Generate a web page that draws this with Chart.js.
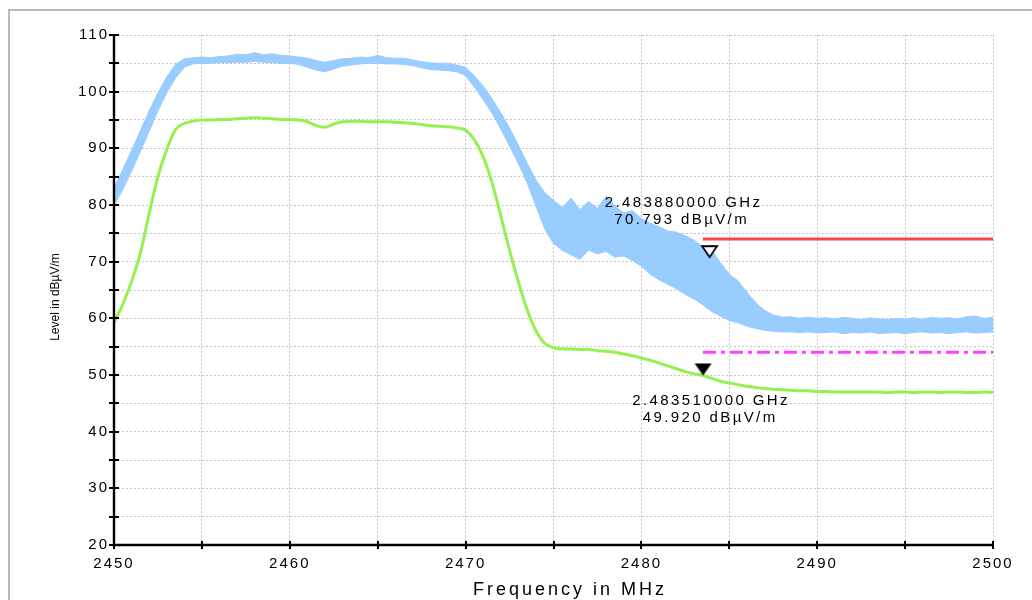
<!DOCTYPE html>
<html>
<head>
<meta charset="utf-8">
<script src="https://cdn.jsdelivr.net/npm/chart.js@4.4.1/dist/chart.umd.min.js"></script>
<style>
  html, body { margin: 0; padding: 0; background: #fff; }
  #wrap { position: relative; width: 1032px; height: 600px; }
</style>
</head>
<body>
<div id="wrap"><canvas id="spectrum"></canvas></div>
<script>
// frequency grid in MHz (0.5 MHz steps)
const freq = [
  2450, 2450.5, 2451, 2451.5, 2452, 2452.5, 2453, 2453.5, 2454, 2454.5,
  2455, 2455.5, 2456, 2456.5, 2457, 2457.5, 2458, 2458.5, 2459, 2459.5,
  2460, 2460.5, 2461, 2461.5, 2462, 2462.5, 2463, 2463.5, 2464, 2464.5,
  2465, 2465.5, 2466, 2466.5, 2467, 2467.5, 2468, 2468.5, 2469, 2469.5,
  2470, 2470.5, 2471, 2471.5, 2472, 2472.5, 2473, 2473.5, 2474, 2474.5,
  2475, 2475.5, 2476, 2476.5, 2477, 2477.5, 2478, 2478.5, 2479, 2479.5,
  2480, 2480.5, 2481, 2481.5, 2482, 2482.5, 2483, 2483.5, 2484, 2484.5,
  2485, 2485.5, 2486, 2486.5, 2487, 2487.5, 2488, 2488.5, 2489, 2489.5,
  2490, 2490.5, 2491, 2491.5, 2492, 2492.5, 2493, 2493.5, 2494, 2494.5,
  2495, 2495.5, 2496, 2496.5, 2497, 2497.5, 2498, 2498.5, 2499, 2499.5,
  2500
];

// peak detector trace: noisy, drawn as upper / lower edge of the band
const peakUpper = [
  83.0, 86.3, 89.6, 93.1, 96.6, 99.8, 102.6, 104.8, 105.8, 106.0,
  106.1, 106.0, 106.2, 106.3, 106.6, 106.5, 106.9, 106.5, 106.7, 106.4,
  106.3, 106.1, 105.9, 105.5, 105.2, 105.5, 105.8, 105.9, 106.1, 106.0,
  106.4, 106.0, 105.9, 105.9, 105.6, 105.3, 105.1, 105.0, 105.0, 104.7,
  104.3, 102.8, 101.0, 98.8, 96.3, 93.6, 90.6, 87.4, 84.4, 82.2,
  80.8, 79.6, 81.2, 79.2, 80.6, 79.4, 81.6, 79.8, 78.6, 79.0,
  77.6, 76.8, 76.2, 75.4, 75.2, 74.6, 73.8, 72.6, 72.0, 69.8,
  67.8, 66.6, 64.6, 62.8, 61.4, 60.6, 60.2, 60.3, 60.0, 60.2,
  60.0, 60.1, 59.9, 60.2, 60.0, 59.8, 60.1, 59.9, 59.8, 60.0,
  59.9, 60.1, 59.8, 60.2, 60.0, 60.1, 59.9, 60.3, 60.4, 60.0,
  60.2
];
const peakLower = [
  80.0, 82.7, 86.0, 89.4, 93.0, 96.6, 99.8, 102.4, 104.3, 104.9,
  105.0, 105.0, 105.1, 105.1, 105.2, 105.2, 105.3, 105.2, 105.1, 105.0,
  105.0, 104.8, 104.3, 103.8, 103.5, 104.0, 104.5, 104.7, 104.9, 105.0,
  105.0, 104.9, 104.9, 104.8, 104.6, 104.2, 103.9, 103.8, 103.7, 103.5,
  102.8, 100.8, 98.6, 96.2, 93.4, 90.4, 87.3, 83.9, 79.8, 75.8,
  73.2, 72.0, 71.2, 70.4, 72.0, 71.4, 71.8, 70.8, 71.0, 70.2,
  69.2, 67.8, 66.8, 66.0, 65.2, 64.2, 63.4, 62.4, 61.2, 60.4,
  59.6, 59.2, 58.6, 58.2, 57.9, 57.7, 57.6, 57.6, 57.5, 57.6,
  57.4, 57.5, 57.6, 57.3, 57.5, 57.4, 57.6, 57.3, 57.4, 57.5,
  57.3, 57.5, 57.6, 57.4, 57.5, 57.3, 57.5, 57.6, 57.4, 57.5,
  57.6
];

// average detector trace
const avgLevel = [
  59.2, 62.5, 66.5, 71.5, 78.5, 85.0, 89.8, 93.3, 94.4, 94.8,
  95.0, 95.0, 95.1, 95.1, 95.2, 95.3, 95.4, 95.3, 95.2, 95.1,
  95.1, 95.0, 94.7, 94.0, 93.7, 94.3, 94.7, 94.8, 94.8, 94.7,
  94.7, 94.7, 94.6, 94.5, 94.4, 94.2, 94.0, 93.9, 93.8, 93.6,
  93.2, 91.5, 88.5, 84.0, 78.1, 72.0, 66.5, 61.5, 57.8, 55.6,
  54.8, 54.6, 54.6, 54.5, 54.5, 54.3, 54.2, 54.0, 53.7, 53.4,
  53.0, 52.6, 52.1, 51.6, 51.1, 50.6, 50.2, 49.9, 49.4, 48.9,
  48.6, 48.3, 48.0, 47.8, 47.6, 47.5, 47.4, 47.3, 47.2, 47.2,
  47.1, 47.1, 47.0, 47.0, 47.0, 47.0, 47.0, 47.0, 46.9, 47.0,
  47.0, 46.9, 47.0, 47.0, 46.9, 47.0, 47.0, 46.9, 46.9, 47.0,
  46.9
];

// limit lines (restricted band edge)
const limitFreq = [2483.5, 2500];
const peakLimit = [74, 74];
const avgLimit = [54, 54];

// markers: [peak, average]
const markerFreq = [2483.88, 2483.51];
const markerLevel = [70.793, 49.92];

const toXY = (xs, ys) => xs.map((x, i) => ({ x: x, y: ys[i] }));

// down-pointing triangle sprite, tip sits at the sprite centre
function triangle(w, h, filled) {
  const c = document.createElement('canvas');
  c.width = w + 4;
  c.height = (h + 2) * 2;
  const g = c.getContext('2d');
  const cx = c.width / 2, tip = c.height / 2;
  g.beginPath();
  g.moveTo(cx - w / 2, tip - h);
  g.lineTo(cx + w / 2, tip - h);
  g.lineTo(cx, tip);
  g.closePath();
  if (filled) {
    g.fillStyle = '#000';
    g.fill();
  } else {
    g.fillStyle = '#fff';
    g.fill();
    g.lineWidth = 1.8;
    g.strokeStyle = '#000';
    g.stroke();
  }
  return c;
}

const decor = {
  id: 'decor',
  beforeDraw(chart) {
    const ctx = chart.ctx;
    ctx.save();
    ctx.fillStyle = '#fff';
    ctx.fillRect(0, 0, chart.width, chart.height);
    ctx.strokeStyle = '#b8b8b8';
    ctx.lineWidth = 2;
    ctx.beginPath();
    ctx.moveTo(9, chart.height);
    ctx.lineTo(9, 10);
    ctx.lineTo(chart.width, 10);
    ctx.stroke();
    ctx.restore();
    ctx.letterSpacing = '2px';
  },
  afterDatasetsDraw(chart) {
    const ctx = chart.ctx;
    const { left, right, top, bottom } = chart.chartArea;
    const xs = chart.scales.x, ys = chart.scales.y;
    ctx.save();
    ctx.strokeStyle = '#000';
    ctx.lineWidth = 2.4;
    ctx.beginPath();
    ctx.moveTo(left, top);
    ctx.lineTo(left, bottom);
    ctx.lineTo(right, bottom);
    ctx.stroke();
    ctx.lineWidth = 2;
    ctx.beginPath();
    ys.ticks.forEach(t => {
      const py = Math.round(ys.getPixelForValue(t.value));
      ctx.moveTo(left - 5, py);
      ctx.lineTo(left + 5, py);
    });
    xs.ticks.forEach(t => {
      const px = Math.round(xs.getPixelForValue(t.value));
      ctx.moveTo(px, bottom - 4);
      ctx.lineTo(px, bottom + 4);
    });
    ctx.stroke();
    ctx.restore();
  },
  afterDraw(chart) {
    const ctx = chart.ctx;
    const xs = chart.scales.x, ys = chart.scales.y;
    ctx.save();
    ctx.fillStyle = '#000';
    ctx.textAlign = 'center';
    ctx.textBaseline = 'middle';

    // axis titles
    ctx.letterSpacing = '3px';
    ctx.font = '18px "Liberation Sans", Arial, sans-serif';
    ctx.fillText('Frequency in MHz', 570, 590);
    ctx.letterSpacing = '0px';
    ctx.font = '12px "Liberation Sans", Arial, sans-serif';
    ctx.save();
    ctx.translate(56, 297);
    ctx.rotate(-Math.PI / 2);
    ctx.fillText('Level in dBµV/m', 0, 0);
    ctx.restore();

    // marker read-outs
    ctx.letterSpacing = '2.4px';
    ctx.font = '15px "Liberation Sans", Arial, sans-serif';
    const lines = i => [
      (markerFreq[i] / 1000).toFixed(9) + ' GHz',
      markerLevel[i].toFixed(3) + ' dBµV/m'
    ];
    let px = xs.getPixelForValue(markerFreq[0]);
    let py = ys.getPixelForValue(markerLevel[0]);
    let t = lines(0);
    ctx.fillText(t[0], px - 26, py - 54);
    ctx.fillText(t[1], px - 28, py - 37);
    px = xs.getPixelForValue(markerFreq[1]);
    py = ys.getPixelForValue(markerLevel[1]);
    t = lines(1);
    ctx.fillText(t[0], px + 8, py + 25);
    ctx.fillText(t[1], px + 7, py + 42);
    ctx.restore();
  }
};

const blue = 'rgb(153,204,255)';
const green = 'rgb(150,240,80)';

new Chart(document.getElementById('spectrum'), {
  type: 'line',
  data: {
    datasets: [
      {
        data: [{ x: markerFreq[0], y: markerLevel[0] }],
        showLine: false,
        pointStyle: triangle(15, 11, false),
        pointRadius: 8
      },
      {
        data: [{ x: markerFreq[1], y: markerLevel[1] }],
        showLine: false,
        pointStyle: triangle(17, 12, true),
        pointRadius: 8
      },
      {
        data: toXY(limitFreq, peakLimit),
        borderColor: 'rgb(242,72,72)',
        borderWidth: 3,
        pointRadius: 0
      },
      {
        data: toXY(limitFreq, avgLimit),
        borderColor: 'rgb(255,64,255)',
        borderWidth: 3,
        borderDash: [13, 5, 4, 5],
        pointRadius: 0
      },
      {
        data: toXY(freq, avgLevel),
        borderColor: green,
        borderWidth: 3,
        pointRadius: 0,
        cubicInterpolationMode: 'monotone'
      },
      {
        data: toXY(freq, peakUpper),
        borderColor: blue,
        backgroundColor: blue,
        borderWidth: 1,
        pointRadius: 0,
        fill: '+1'
      },
      {
        data: toXY(freq, peakLower),
        borderColor: blue,
        borderWidth: 1,
        pointRadius: 0,
        fill: false
      }
    ]
  },
  options: {
    responsive: true,
    maintainAspectRatio: false,
    animation: false,
    events: [],
    layout: { padding: { left: 0, top: 35, right: 39, bottom: 0 } },
    plugins: {
      legend: { display: false },
      tooltip: { enabled: false }
    },
    scales: {
      x: {
        type: 'linear',
        min: 2450,
        max: 2500,
        afterFit: s => { s.height = 55; },
        grid: { color: '#c4c4c4', lineWidth: 1, drawTicks: false },
        border: { display: false, dash: [2, 2] },
        ticks: {
          stepSize: 5,
          autoSkip: false,
          maxRotation: 0,
          padding: 10,
          color: '#000',
          font: { family: '"Liberation Sans", Arial, sans-serif', size: 15 },
          callback: v => (v % 10 === 0 ? v : '')
        }
      },
      y: {
        min: 20,
        max: 110,
        afterFit: s => { s.width = 114; },
        grid: { color: '#c4c4c4', lineWidth: 1, drawTicks: false },
        border: { display: false, dash: [2, 2] },
        ticks: {
          stepSize: 5,
          autoSkip: false,
          padding: 5,
          color: '#000',
          font: { family: '"Liberation Sans", Arial, sans-serif', size: 15 },
          callback: v => (v % 10 === 0 ? v : '')
        }
      }
    }
  },
  plugins: [decor]
});
</script>
</body>
</html>
